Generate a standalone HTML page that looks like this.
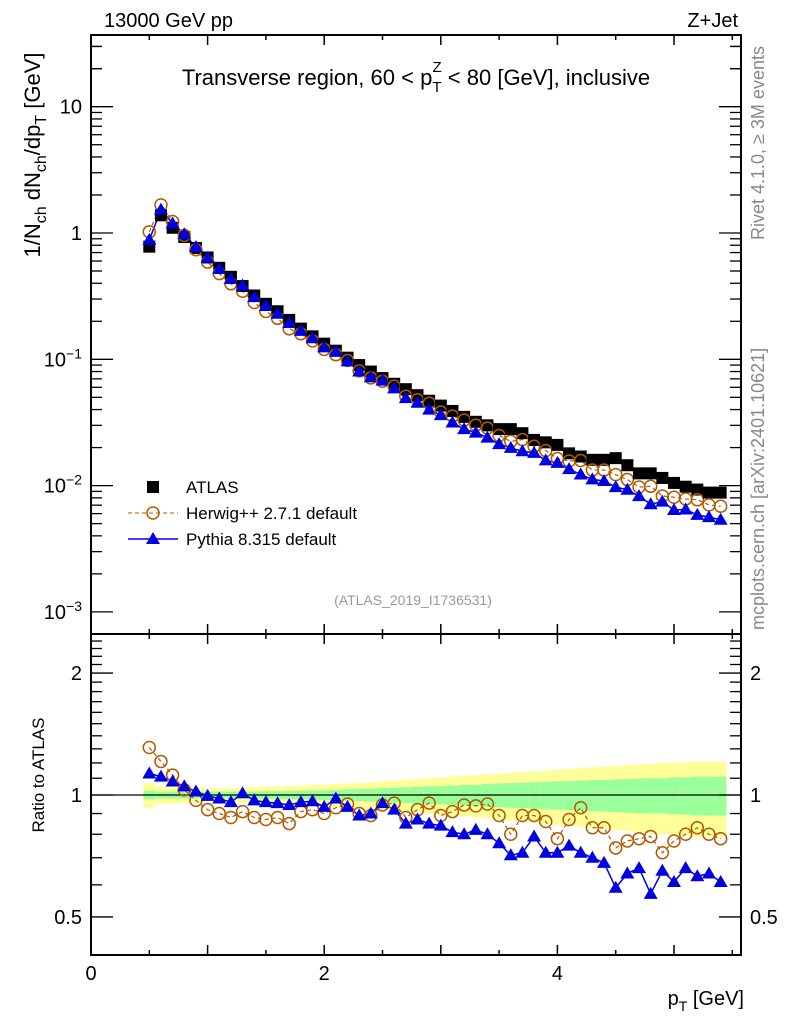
<!DOCTYPE html>
<html><head><meta charset="utf-8"><style>
body{margin:0;background:#fff}
svg text{font-family:"Liberation Sans",Arial,sans-serif}
</style></head><body>
<svg id="c" width="786" height="1024" xmlns="http://www.w3.org/2000/svg">
<g id="bands"></g>
<g id="marks"></g>
<g id="axes"></g>
<text x="104" y="27" font-size="20">13000 GeV pp</text>
<text x="738" y="27" font-size="20" text-anchor="end">Z+Jet</text>
<text x="416" y="85" font-size="22" text-anchor="middle">Transverse region, 60 &lt; p<tspan font-size="15" dy="7">T</tspan><tspan font-size="15" dx="-9" dy="-20">Z</tspan><tspan dy="13"> &lt; 80 [GeV], inclusive</tspan></text>
<text x="413" y="605" font-size="14" fill="#999" text-anchor="middle">(ATLAS_2019_I1736531)</text>
<text transform="translate(764,240) rotate(-90)" font-size="18" fill="#888">Rivet 4.1.0, ≥ 3M events</text>
<text transform="translate(764,630) rotate(-90)" font-size="18" fill="#888">mcplots.cern.ch [arXiv:2401.10621]</text>
<text transform="translate(40,155) rotate(-90)" font-size="22" text-anchor="middle">1/N<tspan font-size="16" dy="6">ch</tspan><tspan dy="-6"> dN</tspan><tspan font-size="16" dy="6">ch</tspan><tspan dy="-6">/dp</tspan><tspan font-size="16" dy="6">T</tspan><tspan dy="-6"> [GeV]</tspan></text>
<text transform="translate(44,775) rotate(-90)" font-size="17" text-anchor="middle">Ratio to ATLAS</text>
<text x="744" y="1005" font-size="20" text-anchor="end">p<tspan font-size="14" dy="6">T</tspan><tspan dy="-6"> [GeV]</tspan></text>
<g>
<rect x="147" y="481" width="12" height="12" fill="#000"/>
<text x="186" y="493" font-size="17">ATLAS</text>
<line x1="128" y1="513" x2="178" y2="513" stroke="#b35a00" stroke-dasharray="4,3"/>
<circle cx="153" cy="513" r="6" fill="none" stroke="#b35a00" stroke-width="1.5"/>
<text x="186" y="519" font-size="17">Herwig++ 2.7.1 default</text>
<line x1="128" y1="539" x2="178" y2="539" stroke="#0000e0" stroke-width="1.5"/>
<polygon points="153,532 160,544 146,544" fill="#0000e0"/>
<text x="186" y="545" font-size="17">Pythia 8.315 default</text>
</g>
</svg>
<script>
const pT=[0.5,0.6,0.7,0.8,0.9,1.0,1.1,1.2,1.3,1.4,1.5,1.6,1.7,1.8,1.9,2.0,2.1,2.2,2.3,2.4,2.5,2.6,2.7,2.8,2.9,3.0,3.1,3.2,3.3,3.4,3.5,3.6,3.7,3.8,3.9,4.0,4.1,4.2,4.3,4.4,4.5,4.6,4.7,4.8,4.9,5.0,5.1,5.2,5.3,5.4];
const atlas=[0.78,1.38,1.1,0.93,0.76,0.64,0.53,0.45,0.38,0.32,0.275,0.24,0.205,0.175,0.152,0.133,0.117,0.103,0.090,0.080,0.071,0.064,0.058,0.052,0.047,0.043,0.039,0.035,0.032,0.030,0.028,0.028,0.026,0.023,0.022,0.021,0.018,0.017,0.016,0.016,0.0165,0.0145,0.0125,0.0125,0.0115,0.0105,0.0098,0.0093,0.0088,0.0088];
const herwigRatio=[1.31,1.21,1.12,1.03,0.97,0.92,0.90,0.88,0.91,0.88,0.87,0.88,0.85,0.91,0.92,0.90,0.93,0.95,0.90,0.89,0.945,0.955,0.88,0.92,0.955,0.89,0.91,0.945,0.94,0.95,0.89,0.80,0.89,0.89,0.86,0.78,0.87,0.93,0.83,0.83,0.74,0.77,0.78,0.79,0.72,0.77,0.80,0.83,0.80,0.78];
const pythiaRatio=[1.13,1.11,1.08,1.05,1.02,0.995,0.98,0.96,1.01,0.97,0.96,0.955,0.945,0.96,0.965,0.935,0.98,0.935,0.89,0.90,0.955,0.92,0.85,0.87,0.85,0.84,0.81,0.80,0.82,0.80,0.76,0.71,0.72,0.79,0.72,0.72,0.75,0.72,0.70,0.68,0.59,0.64,0.66,0.57,0.65,0.61,0.66,0.63,0.64,0.61];
const statErr=[0.025,0.02,0.02,0.02,0.02,0.02,0.02,0.02,0.02,0.02,0.022,0.022,0.024,0.025,0.026,0.028,0.03,0.032,0.034,0.036,0.04,0.042,0.045,0.048,0.05,0.052,0.055,0.058,0.06,0.065,0.068,0.07,0.072,0.075,0.078,0.08,0.082,0.085,0.088,0.09,0.092,0.095,0.098,0.1,0.1,0.105,0.105,0.11,0.11,0.11];
const totErr=[0.07,0.05,0.05,0.045,0.045,0.04,0.04,0.04,0.042,0.045,0.048,0.05,0.052,0.055,0.058,0.06,0.065,0.068,0.07,0.075,0.08,0.085,0.09,0.095,0.1,0.105,0.11,0.115,0.12,0.125,0.13,0.135,0.14,0.145,0.15,0.155,0.16,0.165,0.17,0.175,0.18,0.185,0.19,0.195,0.2,0.2,0.205,0.21,0.21,0.21];
const xTicks=[0,2,4];
const yTicks=[["10",10],["1",1],["10⁻¹",0.1],["10⁻²",0.01],["10⁻³",0.001]];
const rTicks=[["2",2],["1",1],["0.5",0.5]];

const NS="http://www.w3.org/2000/svg";
const L=91,R=741,T=35,M=634,B=955;
const X=v=>L+v*116.6;
const Y=v=>233-Math.log10(v)*126.3;
const RY=v=>795-Math.log10(v)*405;
function mk(p,tag,a){const e=document.createElementNS(NS,tag);for(const k in a)e.setAttribute(k,a[k]);p.appendChild(e);return e;}
const bands=document.getElementById('bands'),marks=document.getElementById('marks'),axes=document.getElementById('axes');
const hw=5.83;
pT.forEach((p,i)=>{
  const y1=mk(bands,'rect',{x:X(p)-hw,width:2*hw,y:RY(1+totErr[i]),height:RY(1-totErr[i])-RY(1+totErr[i]),fill:'#ffff99'});
  
  
  const g1=mk(bands,'rect',{x:X(p)-hw,width:2*hw,y:RY(1+statErr[i]),height:RY(1-statErr[i])-RY(1+statErr[i]),fill:'#99ff99'});
  
  
});
const one=mk(marks,'line',{x1:L,x2:R,y1:RY(1),y2:RY(1),stroke:'#000','stroke-width':1.2});


const hTop=pT.map((p,i)=>X(p)+','+Y(atlas[i]*herwigRatio[i])).join(' ');
const pTop=pT.map((p,i)=>X(p)+','+Y(atlas[i]*pythiaRatio[i])).join(' ');
const hBot=pT.map((p,i)=>X(p)+','+RY(herwigRatio[i])).join(' ');
const pBot=pT.map((p,i)=>X(p)+','+RY(pythiaRatio[i])).join(' ');
[[hTop,'herwig-line'],[hBot,'herwig-ratio-line']].forEach(([pts,n])=>{const e=mk(marks,'polyline',{points:pts,fill:'none',stroke:'#b35a00','stroke-dasharray':'4,3','stroke-width':1.2});

});
[[pTop,'pythia-line'],[pBot,'pythia-ratio-line']].forEach(([pts,n])=>{const e=mk(marks,'polyline',{points:pts,fill:'none',stroke:'#0000e0','stroke-width':1.5});

});
pT.forEach((p,i)=>{
  const x=X(p);
  const s=mk(marks,'rect',{x:x-6,y:Y(atlas[i])-6,width:12,height:12,fill:'#000'});
  
  
  [[Y(atlas[i]*herwigRatio[i]),'herwig-point'],[RY(herwigRatio[i]),'herwig-ratio-point']].forEach(([y,n])=>{
    const c=mk(marks,'circle',{cx:x,cy:y,r:6,fill:'none',stroke:'#b35a00','stroke-width':1.5});
    
    });
  [[Y(atlas[i]*pythiaRatio[i]),'pythia-point'],[RY(pythiaRatio[i]),'pythia-ratio-point']].forEach(([y,n])=>{
    const t=mk(marks,'polygon',{points:`${x},${y-7} ${x+7},${y+5} ${x-7},${y+5}`,fill:'#0000e0'});
    
    });
});
[[T,M],[M,B]].forEach(([a,b])=>{const f=mk(axes,'rect',{x:L,y:a,width:R-L,height:b-a,fill:'none',stroke:'#000','stroke-width':2});

});
for(let k=0;k<=11;k++){const v=k*0.5,x=X(v);if(x>R)break;const len=(k%2==0)?10:5;
  [[T,1],[M,-1],[M,1],[B,-1]].forEach(([y,d])=>mk(axes,'line',{x1:x,x2:x,y1:y,y2:y+d*len,stroke:'#000','stroke-width':1.5}));}
xTicks.forEach(v=>{const t=mk(axes,'text',{x:X(v),y:980,'font-size':20,'text-anchor':'middle'});t.textContent=v;

});
for(let d=-3;d<=1;d++){for(let m=1;m<=9;m++){const v=m*Math.pow(10,d),y=Y(v);if(y<T||y>M)continue;const len=m==1?22:11;
  mk(axes,'line',{x1:L,x2:L+len,y1:y,y2:y,stroke:'#000','stroke-width':1.3});mk(axes,'line',{x1:R,x2:R-len,y1:y,y2:y,stroke:'#000','stroke-width':1.3});}}
for(let m=2;m<=3;m++){const y=Y(m*10);mk(axes,'line',{x1:L,x2:L+11,y1:y,y2:y,stroke:'#000','stroke-width':1.3});mk(axes,'line',{x1:R,x2:R-11,y1:y,y2:y,stroke:'#000','stroke-width':1.3});}
yTicks.forEach(([s,v])=>{const t=mk(axes,'text',{x:82,y:Y(v)+7,'font-size':20,'text-anchor':'end'});
  if(s.length>2){t.textContent='10';const sp=mk(t,'tspan',{'font-size':14,dy:-8});sp.textContent=s.slice(2).replace('⁻','−').replace('¹','1').replace('²','2').replace('³','3');}else t.textContent=s;
  
  });
[0.4,0.5,0.6,0.7,0.8,0.9,1,1.1,1.2,1.3,1.4,1.5,1.6,1.7,1.8,1.9,2,2.1,2.2,2.3,2.4,2.5].forEach(v=>{const y=RY(v);if(y<M||y>B)return;const major=(v==0.5||v==1||v==2);const len=major?22:11;
  mk(axes,'line',{x1:L,x2:L+len,y1:y,y2:y,stroke:'#000','stroke-width':1.3});mk(axes,'line',{x1:R,x2:R-len,y1:y,y2:y,stroke:'#000','stroke-width':1.3});});
rTicks.forEach(([s,v])=>{[[82,'end'],[750,'start']].forEach(([x,a])=>{const t=mk(axes,'text',{x:x,y:RY(v)+7,'font-size':20,'text-anchor':a});t.textContent=s;
  
  });});
</script>
</body></html>
